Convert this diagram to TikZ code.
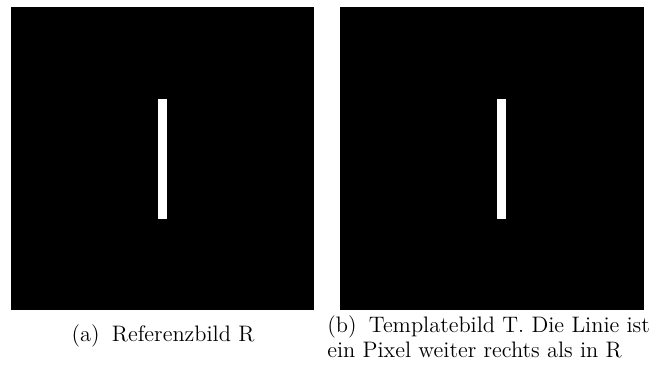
\documentclass[tikz,border=0pt]{standalone}
\begin{document}
\begin{tikzpicture}[x=0.5pt,y=-0.5pt,font=\fontsize{11.2}{12.5}\selectfont]
		\useasboundingbox (0,0) rectangle (652,367);
		% Referenzbild
		\fill [black] (11,7) rectangle (314,310);
		\fill [white] (158,99) rectangle (167,219);
		% Templatebild
		\fill [black] (340,7) rectangle (644,310);
		\fill [white] (497,99) rectangle (506,219);
		% Beschriftung
		\node [anchor=base, inner sep=0pt] (capA) at (163,342) {(a)\hspace{0.55em}Referenzbild R};
		\node [anchor=west, align=left, inner sep=0pt] (capB) at (327,337) {(b)\hspace{0.55em}Templatebild T. Die Linie ist\\ein Pixel weiter rechts als in R};
	\end{tikzpicture}
\end{document}
